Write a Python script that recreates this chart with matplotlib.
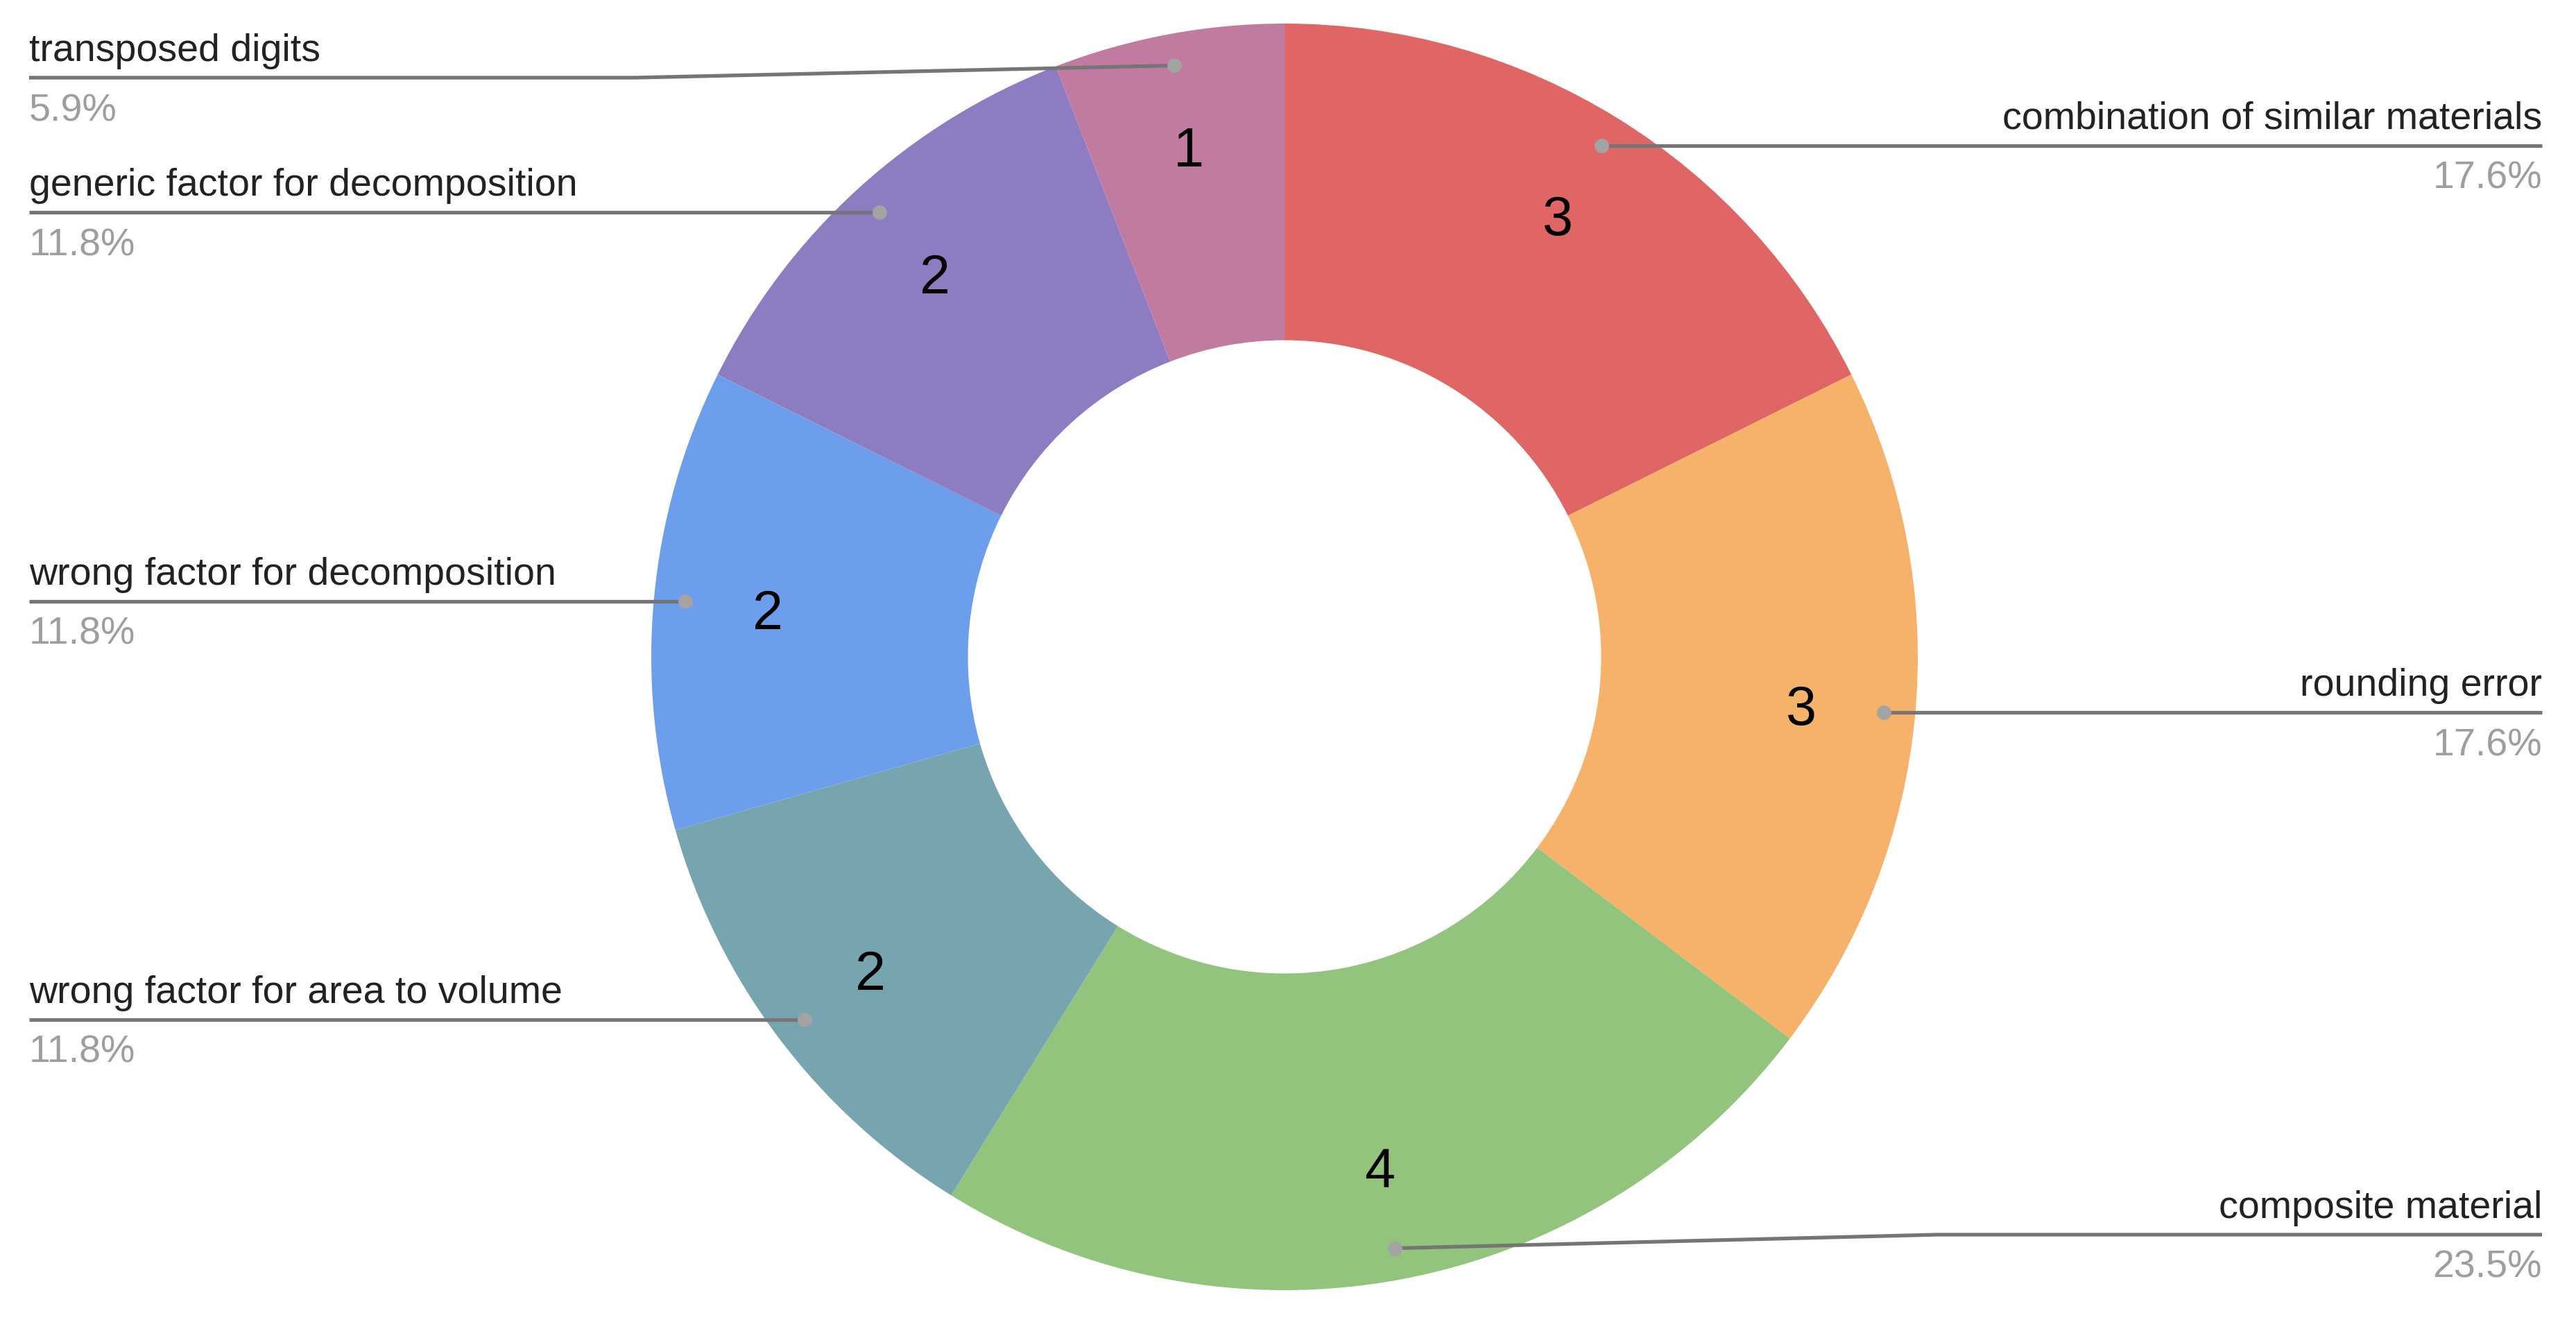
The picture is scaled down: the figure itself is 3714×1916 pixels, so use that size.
import numpy as np
import matplotlib
matplotlib.use("Agg")
import matplotlib.pyplot as plt

# Data (clockwise from 12 o'clock)
categories = [
    "combination of similar materials",
    "rounding error",
    "composite material",
    "wrong factor for area to volume",
    "wrong factor for decomposition",
    "generic factor for decomposition",
    "transposed digits",
]
counts = [3, 3, 4, 2, 2, 2, 1]
colors = ["#E06666", "#F6B26B", "#93C47D", "#76A5AF", "#6D9EEB", "#8E7CC3", "#C27BA0"]

plt.rcParams["font.family"] = ["Liberation Sans", "DejaVu Sans"]

W, H = 3714, 1916
fig = plt.figure(figsize=(W / 100, H / 100), dpi=100)
ax = fig.add_axes([0, 0, 1, 1])

# layout in pixel units (y measured from top)
cx, cy = 1852, 947
R = 913
total = sum(counts)

ax.pie(counts, colors=colors, startangle=90, counterclock=False,
       radius=R, center=(cx, H - cy),
       wedgeprops=dict(width=R * 0.5, linewidth=0),
       autopct=lambda p: f"{round(p * total / 100)}", pctdistance=0.82,
       textprops=dict(fontsize=57, color="black"))

# keep the inside numbers centred on their glyphs
for t in ax.texts:
    t.set_verticalalignment("center_baseline")

ax.set_xlim(0, W)
ax.set_ylim(0, H)
ax.set_aspect("equal")
ax.axis("off")

# leader lines and outside labels
left_x, right_x = 42, 3665
bends = {"transposed digits": (915, 112), "composite material": (2794, 1780)}
cum = np.cumsum([0] + counts)
for i, name in enumerate(categories):
    mid = (cum[i] + cum[i + 1]) / 2 / total * 2 * np.pi
    dx = cx + 0.95 * R * np.sin(mid)
    dy = cy - 0.95 * R * np.cos(mid)
    right = np.sin(mid) > 0
    end_x = right_x if right else left_x
    if name in bends:
        bx, by = bends[name]
        xs, ys = [dx, bx, end_x], [dy, by, by]
    else:
        by = dy
        xs, ys = [dx, end_x], [dy, dy]
    ax.plot(xs, [H - y for y in ys], color="#757575", lw=3.8,
            solid_capstyle="butt", zorder=3)
    ax.plot([dx], [H - dy], "o", color="#A3A3A3", ms=15, mec="none", zorder=4)
    ha = "right" if right else "left"
    ax.text(end_x, H - (by - 24), name, ha=ha, va="baseline",
            fontsize=40, color="#222222")
    pct = counts[i] / total * 100
    ax.text(end_x, H - (by + 62), f"{pct:.1f}%", ha=ha, va="baseline",
            fontsize=40, color="#9E9E9E")

fig.savefig("out.png", dpi=100, facecolor="white")
